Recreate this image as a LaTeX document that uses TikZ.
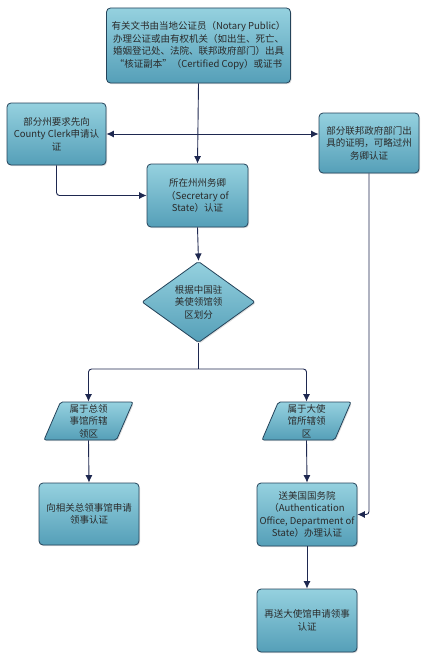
\documentclass[tikz,border=0pt]{standalone}
\usepackage{fontspec}
\setmainfont{Noto Sans CJK SC}
\usetikzlibrary{arrows.meta,shapes.geometric,shadows,calc}
\definecolor{boxborder}{HTML}{24435A}
\definecolor{filltop}{HTML}{95D1DF}
\definecolor{fillbot}{HTML}{559FB8}
\definecolor{arrowcol}{HTML}{1E2850}
\definecolor{textcol}{HTML}{2A2A2A}
\begin{document}
\begin{tikzpicture}[x=1pt,y=-1pt,
  base/.style={draw=boxborder, line width=0.8pt, top color=filltop, bottom color=fillbot,
    drop shadow={opacity=0.25, shadow xshift=1pt, shadow yshift=-1.2pt},
    align=center, text=textcol, inner sep=0pt, font=\fontsize{9.5}{12.5}\selectfont},
  box/.style={base, rectangle, rounded corners=4pt},
  decision/.style={base, diamond, rounded corners=2pt},
  iobox/.style={base, trapezium, trapezium left angle=64, trapezium right angle=116,
    trapezium stretches body, rounded corners=2pt},
  arr/.style={draw=arrowcol, line width=0.9pt, -{Latex[length=7.5pt,width=7pt]}},
  ln/.style={draw=arrowcol, line width=0.9pt},
]
\useasboundingbox (0,0) rectangle (427,661);

\node[box, minimum width=184pt, minimum height=75pt] (top) at (198.5,45.5)
  {有关文书由当地公证员（Notary Public）\\办理公证或由有权机关（如出生、死亡、\\婚姻登记处、法院、联邦政府部门）出具\\“核证副本”（Certified Copy）或证书};
\node[box, minimum width=99pt, minimum height=62pt] (left) at (56.5,134)
  {部分州要求先向\\County Clerk申请认\\证};
\node[box, minimum width=100pt, minimum height=60pt] (right) at (369,143)
  {部分联邦政府部门出\\具的证明，可略过州\\务卿认证};
\node[box, minimum width=101pt, minimum height=63pt] (sec) at (197.5,195.5)
  {所在州州务卿\\（Secretary of\\State）认证};
\node[decision, minimum width=113pt, minimum height=61pt] (dia) at (198.5,302)
  {根据中国驻\\美使领馆领\\区划分};
\node[iobox, minimum width=89pt, minimum height=38pt] (lpar) at (88.5,421)
  {属于总领\\事馆所辖\\领区};
\node[iobox, minimum width=89pt, minimum height=38pt] (rpar) at (306.5,421)
  {属于大使\\馆所辖领\\区};
\node[box, minimum width=100pt, minimum height=62pt] (lbox) at (89,514)
  {向相关总领事馆申请\\领事认证};
\node[box, minimum width=100pt, minimum height=63pt] (rbox) at (307,514.5)
  {送美国国务院\\（Authentication\\Office, Department of\\State）办理认证};
\node[box, minimum width=100pt, minimum height=63pt] (bbox) at (307,620.5)
  {再送大使馆申请领事\\认证};

\draw[arr] (top.south) -- (sec.north);
\coordinate (j1) at (top.south |- left.east);
\draw[arr] (j1) -- (left.east);
\draw[arr] (j1) -- (right.west |- j1);
\draw[arr, rounded corners=3pt] (left.south) |- (sec.west);
\draw[arr] (sec.south) -- (dia.north);
\coordinate (j2) at ($(dia.south)+(0,26)$);
\draw[ln] (dia.south) -- (j2);
\draw[arr, rounded corners=3pt] (j2) -| (lpar.north);
\draw[arr, rounded corners=3pt] (j2) -| (rpar.north);
\draw[arr] (lpar.south) -- (lbox.north);
\draw[arr] (rpar.south) -- (rbox.north);
\draw[arr] (rbox.south) -- (bbox.north);
\draw[arr, rounded corners=3pt] (right.south) |- (rbox.east);
\end{tikzpicture}
\end{document}
